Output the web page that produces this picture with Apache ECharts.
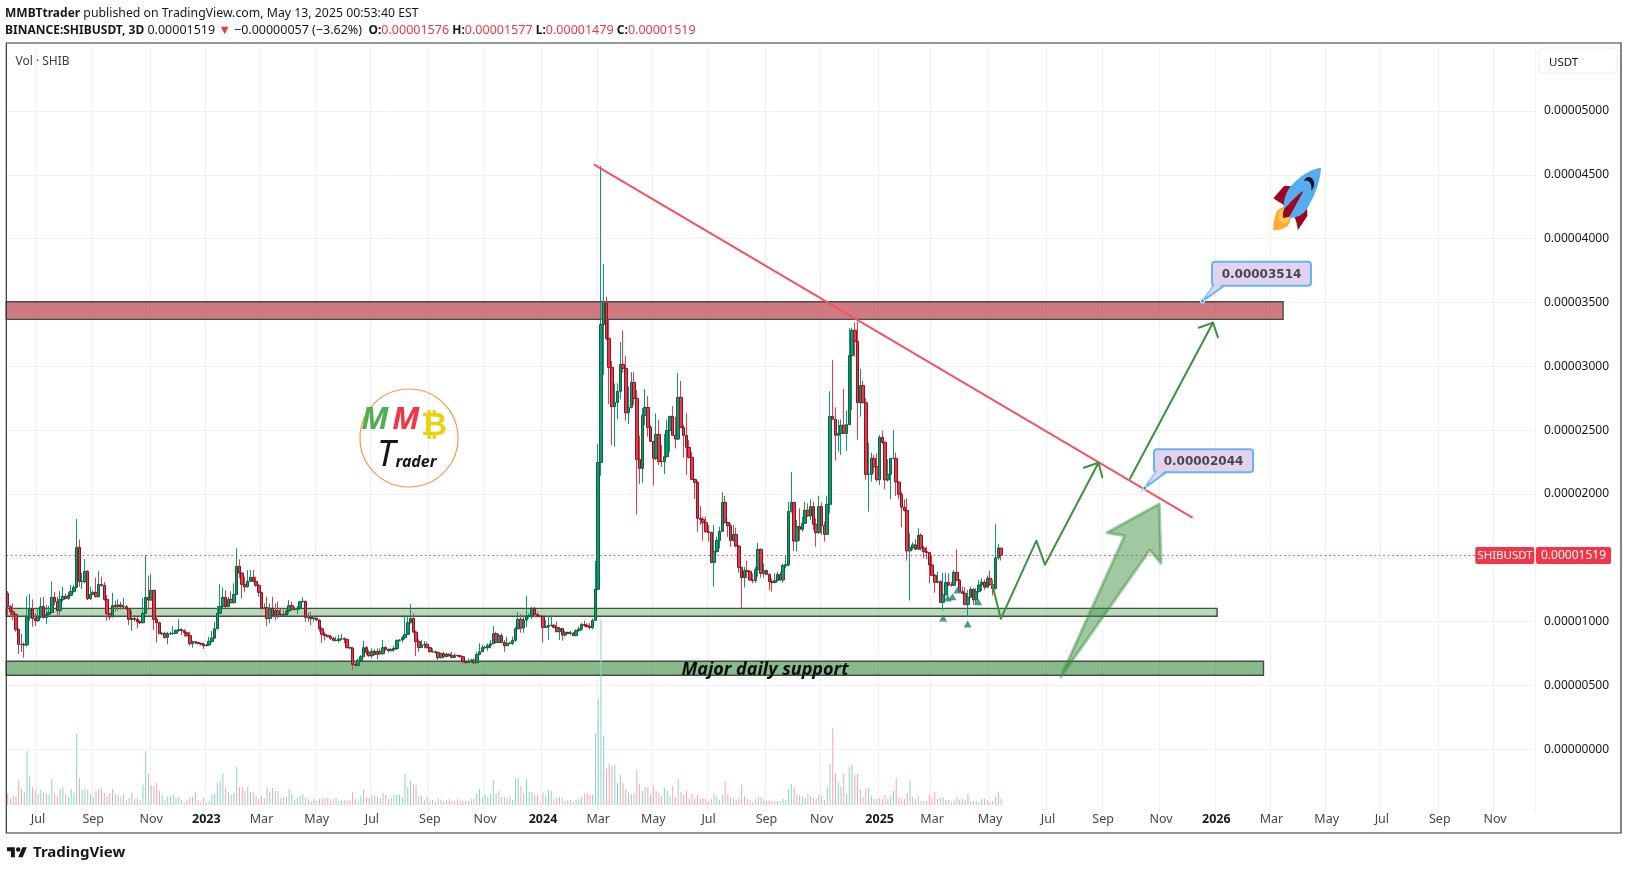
<!DOCTYPE html>
<html>
<head>
<meta charset="utf-8">
<title>SHIBUSDT</title>
<script src="https://cdn.jsdelivr.net/npm/echarts@6/dist/echarts.min.js"></script>
<style>
	html, body { margin: 0; padding: 0; background: #fff; }
	#chart { width: 1628px; height: 870px; }
</style>
</head>
<body>
<div id="chart"></div>
<script>
// prices are in units of 0.00000001 USDT, one row = 10 bars of 3 days
const firstDate = '2022-05-29';
const barCount = 554;
const firstOpen = 1221;
const lastPrice = 1519;

const closes = [
	1117,1078,1057,939,822,822,817,1033,1096,1025,
	1007,1038,1117,1033,1057,1072,1190,1156,1086,1174,
	1198,1182,1206,1237,1268,1582,1315,1315,1394,1179,
	1213,1229,1195,1292,1284,1174,1062,1038,1127,1117,
	1130,1117,1117,1101,1018,1023,1018,999,991,1065,
	1190,1169,1245,1018,991,905,908,877,905,908,
	908,931,937,929,913,890,827,843,837,830,
	824,811,817,845,871,944,1065,1119,1190,1117,
	1174,1148,1213,1433,1381,1292,1273,1315,1347,1315,
	1284,1229,1109,1109,1025,1104,1049,1086,1054,1057,
	1052,1083,1125,1096,1096,1104,1156,1159,1033,1033,
	1023,1028,1012,944,900,890,882,869,853,853,
	864,866,861,796,793,665,657,696,725,796,
	759,733,767,743,767,749,796,783,772,783,
	790,853,856,874,900,991,1025,918,843,798,
	817,822,796,764,764,759,717,749,725,746,
	733,720,736,733,725,686,678,686,699,678,
	743,764,796,796,814,827,905,837,890,837,
	811,830,830,853,944,1018,950,1012,1044,1044,
	1104,1057,1044,1041,955,960,971,971,955,921,
	947,895,916,908,911,890,929,942,978,971,
	960,955,1010,1253,2247,3328,3493,3219,2992,2684,
	2717,2804,3015,2984,2636,2678,2874,2749,2271,2200,
	2616,2678,2522,2412,2279,2467,2255,2253,2292,2498,
	2608,2459,2430,2757,2522,2459,2365,2287,2114,2091,
	1809,1801,1775,1704,1699,1464,1550,1636,1707,1934,
	1777,1751,1636,1683,1592,1425,1344,1399,1394,1326,
	1321,1409,1566,1378,1399,1370,1313,1307,1321,1370,
	1326,1441,1446,1864,1934,1631,1744,1723,1770,1872,
	1828,1901,1762,1697,1901,1752,1684,1919,2606,2585,
	2460,2475,2538,2475,2543,3084,3282,3196,2715,2849,
	2715,2154,2154,2279,2214,2112,2444,2405,2110,2154,
	2279,2279,2094,1997,1896,1872,1554,1580,1601,1567,
	1676,1575,1548,1541,1444,1363,1308,1313,1151,1209,
	1306,1287,1285,1386,1324,1235,1222,1133,1191,1253,
	1170,1235,1287,1310,1270,1340,1290,1260,1500,1576,
	1519
];
const highs = [
	1240,1130,1143,1065,947,903,837,1200,1216,1174,
	1065,1104,1190,1195,1130,1122,1315,1234,1195,1242,
	1273,1221,1234,1287,1287,1804,1644,1383,1490,1404,
	1273,1242,1344,1396,1352,1310,1208,1065,1226,1164,
	1174,1156,1187,1130,1106,1086,1052,1038,1012,1187,
	1519,1360,1373,1247,1052,999,921,921,921,921,
	965,939,1018,947,939,916,921,851,845,837,
	835,835,822,882,926,999,1122,1294,1268,1247,
	1195,1239,1300,1574,1488,1383,1352,1404,1404,1404,
	1352,1294,1234,1143,1195,1143,1195,1143,1156,1104,
	1104,1104,1169,1156,1117,1122,1164,1190,1164,1070,
	1075,1044,1025,1018,955,918,895,897,882,882,
	895,900,877,866,803,803,673,712,738,851,
	809,777,790,783,790,790,856,809,790,790,
	809,861,864,887,1052,1044,1138,1065,929,861,
	856,848,843,803,790,772,764,757,764,757,
	746,764,751,741,736,730,691,712,709,712,
	764,830,817,809,830,856,965,921,908,908,
	856,882,843,882,960,1075,1059,1052,1200,1065,
	1117,1117,1078,1052,1044,1012,1044,1052,981,999,
	960,947,929,921,929,916,939,960,991,1007,
	986,991,1025,1475,2391,4569,3801,3545,3362,3041,
	2866,2866,3190,3281,3080,2843,2955,2955,2814,2456,
	2673,2822,2767,2540,2415,2631,2579,2383,2469,2584,
	2608,2689,2605,2947,2885,2540,2631,2422,2331,2122,
	2101,1905,1822,1822,1757,1704,1757,1665,1744,2015,
	1984,1783,1770,1757,1736,1600,1430,1430,1477,1404,
	1378,1430,1618,1574,1456,1409,1378,1339,1378,1391,
	1391,1451,1514,1939,2172,1934,1796,1888,1823,1940,
	1927,1958,1940,1809,1984,1932,1783,1987,2804,3050,
	2679,2580,2585,2825,2653,3298,3303,3342,3350,2979,
	2888,2749,2402,2324,2306,2319,2462,2496,2410,2272,
	2279,2501,2324,2097,2018,1958,1966,1692,1622,1645,
	1731,1692,1593,1588,1548,1522,1373,1392,1324,1384,
	1384,1379,1313,1405,1567,1332,1274,1269,1248,1274,
	1261,1261,1326,1340,1330,1360,1400,1330,1765,1610,
	1577
];
const lows = [
	1052,1052,1012,921,746,762,717,803,1007,960,
	965,999,1025,1025,981,1033,1070,1130,1038,1054,
	1156,1174,1169,1200,1226,1260,1273,1255,1300,1169,
	1169,1208,1190,1190,1273,1164,1007,1012,1033,1078,
	1086,1091,1096,1091,973,929,999,947,981,986,
	1059,1091,1164,934,835,903,895,866,824,895,
	895,903,921,895,882,882,811,796,824,822,
	811,785,806,809,835,864,939,1059,1104,1096,
	1117,1143,1143,1208,1339,1182,1234,1268,1313,1310,
	1273,1195,1091,1104,965,986,1038,1012,1025,1044,
	1044,1038,1059,1086,1086,1059,1091,1153,999,999,
	973,999,1005,921,835,851,877,856,845,845,
	835,861,830,790,788,621,652,652,694,725,
	738,725,712,736,707,738,738,772,759,772,
	764,777,845,837,861,895,986,913,730,764,
	796,790,790,759,757,751,699,712,712,725,
	725,712,717,725,720,673,673,678,676,668,
	673,738,764,788,772,790,824,830,830,830,
	764,809,822,817,843,939,913,913,960,1025,
	1018,1033,1033,1033,835,955,856,960,947,916,
	856,851,882,903,895,887,887,921,929,960,
	955,939,939,1005,1247,2143,2932,3206,2704,2383,
	2370,2587,2741,2950,2574,2548,2670,2697,1838,2078,
	2088,2540,2449,2409,2065,2266,2227,2214,2156,2287,
	2331,2454,2357,2422,2514,2284,2148,2279,2109,1960,
	1704,1757,1634,1697,1626,1456,1274,1540,1574,1704,
	1770,1665,1587,1626,1582,1383,1102,1268,1339,1318,
	1300,1305,1352,1344,1344,1365,1247,1234,1300,1313,
	1321,1305,1417,1430,1853,1553,1548,1634,1705,1765,
	1822,1796,1718,1587,1687,1679,1627,1679,1849,2580,
	2261,2332,2306,2470,2337,2541,2658,3076,2423,2606,
	2710,2110,1862,2097,2162,2097,2071,2392,2037,2097,
	1958,2272,1984,1958,1739,1862,1478,1165,1561,1561,
	1561,1556,1496,1488,1300,1358,1227,1300,1149,1086,
	1204,1279,1274,1279,1319,1227,1217,1131,1034,1183,
	1131,1131,1227,1240,1250,1262,1280,1205,1250,1480,
	1479
];
// volume, relative units
const volumes = [
	35,18,27,27,75,48,39,162,87,54,
	45,33,45,36,33,30,78,36,27,48,
	54,33,24,48,36,213,81,45,48,45,
	33,24,42,48,51,36,27,36,48,33,
	30,24,33,15,21,36,18,21,15,60,
	162,93,60,57,66,42,30,15,27,26,
	30,21,24,15,6,15,24,24,39,15,
	9,21,6,12,30,33,66,72,96,54,
	39,30,36,114,54,54,42,54,39,39,
	27,18,27,21,54,39,51,42,42,21,
	24,24,48,33,15,21,27,33,23,18,
	12,18,12,18,20,21,21,12,18,21,
	12,14,14,14,14,39,18,12,27,45,
	24,21,27,27,24,21,36,30,18,21,
	30,30,30,24,93,54,72,63,60,27,
	27,15,24,12,15,9,21,15,12,15,
	18,12,12,18,12,12,12,12,18,18,
	36,48,24,33,24,33,75,36,42,24,
	24,21,27,15,78,81,57,36,78,39,
	39,33,30,9,36,27,45,42,18,21,
	24,21,12,15,15,9,15,18,24,33,
	36,30,30,216,318,555,207,108,123,117,
	120,66,90,66,48,39,33,36,105,63,
	42,54,54,33,60,42,36,27,51,42,
	27,57,24,78,39,30,42,18,33,18,
	30,18,21,18,12,18,36,27,15,30,
	72,33,24,18,15,21,60,27,18,15,
	9,18,24,24,18,12,14,12,12,12,
	12,18,15,48,63,54,33,30,24,21,
	33,27,21,18,30,27,15,54,123,231,
	93,69,54,96,33,114,120,90,93,48,
	24,51,51,27,18,18,21,18,30,18,
	27,42,81,21,18,18,36,75,24,18,
	27,12,12,12,30,21,39,18,21,24,
	15,15,9,12,24,15,18,15,33,12,
	12,12,9,18,18,15,9,12,24,39,
	20
];

const monthTicks = [
	['2022-07-01','Jul'],['2022-09-01','Sep'],['2022-11-01','Nov'],['2023-01-01','2023'],
	['2023-03-01','Mar'],['2023-05-01','May'],['2023-07-01','Jul'],['2023-09-01','Sep'],
	['2023-11-01','Nov'],['2024-01-01','2024'],['2024-03-01','Mar'],['2024-05-01','May'],
	['2024-07-01','Jul'],['2024-09-01','Sep'],['2024-11-01','Nov'],['2025-01-01','2025'],
	['2025-03-01','Mar'],['2025-05-01','May'],['2025-07-01','Jul'],['2025-09-01','Sep'],
	['2025-11-01','Nov'],['2026-01-01','2026'],['2026-03-01','Mar'],['2026-05-01','May'],
	['2026-07-01','Jul'],['2026-09-01','Sep'],['2026-11-01','Nov']
];

// drawings as [bar, price]
const trendLine = [[213.2,4579],[429.7,1817]];
const pathArrow = [[357,1318],[360.4,1022],[373.3,1634],[376.4,1446],[395.8,2245]];
const pathArrowHead = [[390.5,2206],[395.8,2245],[397.2,2131]];
const upArrow = [[407.2,2120],[437.3,3342]];
const upArrowHead = [[432.2,3302],[437.3,3342],[439.1,3227]];
const bigArrow = [[382.1,566],[405.3,1673],[398.9,1697],[417.8,1921],[418.5,1457],[414.4,1561]];
const redZone = [462.7,3368,3506];
const lightZone = [438.8,1042,1104];
const darkZone = [455.6,580,689];
const markers = [[339.5,1029],[341.2,1185],[342.9,1195],[344.7,1248],[348.4,981],[352.2,1156]];

const upColor = '#089981', downColor = '#f23645';
const upBorder = '#17602f', downBorder = '#7d1a28';
const font = '"Noto Sans", sans-serif';

let categories = [];
let start = new Date(firstDate + 'T00:00:00Z').getTime();
for (let i = 0; i < barCount; i++) {
	categories.push(new Date(start + i * 3 * 86400000).toISOString().slice(0, 10));
}
// a month label sits on the bar that holds the 1st of the month, past the data on the next bar
let tickAt = {};
monthTicks.forEach(function (t) {
	let idx = categories.filter(function (d) { return d <= t[0]; }).length - 1;
	if (idx >= closes.length && categories[idx] < t[0]) idx++;
	tickAt[idx] = t[1];
});

let opens = closes.map(function (c, i) { return i === 0 ? firstOpen : closes[i - 1]; });
let wickData = closes.map(function (c, i) { return [opens[i], c, lows[i], highs[i]]; });
let bodyData = closes.map(function (c, i) {
	return [opens[i], c, Math.min(opens[i], c), Math.max(opens[i], c)];
});
let volumeData = volumes.map(function (v, i) {
	return { value: v, itemStyle: { color: closes[i] >= opens[i] ? '#8ad3c8' : '#f9a6a6' } };
});

function drawing(points, color, width) {
	return {
		type: 'line', xAxisIndex: 1, yAxisIndex: 0, data: points, showSymbol: false, symbol: 'none',
		silent: true, z: 8, animation: false, lineStyle: { color: color, width: width, cap: 'round', join: 'round' }
	};
}
function zoneArea(zone, fill) {
	return [{ coord: [0, zone[2]], itemStyle: { color: fill, borderColor: '#4a4a4a', borderWidth: 1.4 } }, { coord: [zone[0], zone[1]] }];
}
function svgPath(d, box, fill) {
	return {
		type: 'path',
		shape: { pathData: d, x: box[0], y: box[1], width: box[2], height: box[3], layout: 'cover' },
		style: { fill: fill }
	};
}
function text(x, y, s, size, color, extra) {
	return {
		type: 'text', x: x, y: y, z: 32,
		style: Object.assign({ text: s, fontSize: size, fill: color, fontFamily: font, verticalAlign: 'middle' }, extra || {})
	};
}
function callout(left, top, w, h, tipX, tipY, baseA, baseB, label) {
	return [
		{
			type: 'polyline', z: 30,
			shape: { points: [[baseA, top + h], [tipX, tipY], [baseB, top + h]] },
			style: { stroke: '#64b5f6', lineWidth: 2, fill: '#e1d3ec' }
		},
		{
			type: 'rect', z: 31,
			shape: { x: left, y: top, width: w, height: h, r: 3 },
			style: { fill: '#e1d3ec', stroke: '#64b5f6', lineWidth: 2 }
		},
		{
			type: 'polygon', z: 31,
			shape: { points: [[baseA + 1, top + h - 1.5], [tipX + 3, tipY - 4], [baseB - 1, top + h - 1.5]] },
			style: { fill: '#e1d3ec' }
		},
		{
			type: 'circle', z: 32,
			shape: { cx: tipX, cy: tipY, r: 2 },
			style: { fill: '#2196f3', stroke: '#fff', lineWidth: 1 }
		},
		text(left + w / 2, top + h / 2 + 1, label, 13, '#4a4650', { align: 'center', fontWeight: 'bold', fontFamily: '"DejaVu Sans", sans-serif', fontSize: 12 })
	];
}

const chart = echarts.init(document.getElementById('chart'));
chart.setOption({
	animation: false,
	backgroundColor: '#ffffff',
	grid: [
		{ left: 6.3, right: 93, top: 47.2, height: 765.9 },
		{ left: 6.3, right: 93, top: 560, height: 245 }
	],
	xAxis: [
		{
			type: 'category', gridIndex: 0, data: categories, boundaryGap: true,
			axisLine: { show: false },
			axisTick: { show: false, alignWithLabel: true, interval: function (i) { return tickAt[i] !== undefined; } },
			splitLine: { show: true, lineStyle: { color: '#eff0f3', width: 1 }, interval: function (i) { return tickAt[i] !== undefined; } },
			axisLabel: {
				interval: function (i) { return tickAt[i] !== undefined; },
				margin: 0,
				lineHeight: 12,
				padding: [0, 0, 0, 0],
				formatter: function (v, i) {
					let t = tickAt[i];
					if (t === undefined) return '';
					return /^\d/.test(t) ? '{y|' + t + '}' : '{m|' + t + '}';
				},
				rich: {
					m: { fontFamily: font, fontSize: 12.5, color: '#43464f' },
					y: { fontFamily: font, fontSize: 12.5, fontWeight: 'bold', color: '#131722' }
				}
			}
		},
		{ type: 'value', gridIndex: 0, min: 0, max: barCount, show: false, splitLine: { show: false } },
		{ type: 'category', gridIndex: 1, data: categories, show: false }
	],
	yAxis: [
		{
			type: 'value', gridIndex: 0, position: 'right', min: -500, max: 5500, interval: 500,
			axisLine: { show: false }, axisTick: { show: false },
			splitLine: { show: true, showMinLine: false, showMaxLine: false, lineStyle: { color: '#f0f1f4', width: 1 } },
			axisLabel: {
				margin: 9, fontFamily: font, fontSize: 12, color: '#131722', padding: [5, 0, 0, 0],
				formatter: function (v) {
					if (v < 0 || v > 5000) return '';
					return (v / 100000000).toFixed(8);
				}
			}
		},
		{ type: 'value', gridIndex: 1, min: 0, max: 735, show: false, splitLine: { show: false } }
	],
	series: [
		{
			type: 'bar', xAxisIndex: 2, yAxisIndex: 1, data: volumeData, barWidth: 1, z: 1, silent: true
		},
		{
			type: 'candlestick', xAxisIndex: 0, yAxisIndex: 0, data: wickData, barWidth: 1, z: 3, silent: true,
			itemStyle: { color: upColor, color0: downColor, borderColor: upColor, borderColor0: downColor, borderWidth: 1 }
		},
		{
			type: 'candlestick', xAxisIndex: 0, yAxisIndex: 0, data: bodyData, barWidth: 3, z: 4, silent: true,
			itemStyle: { color: upColor, color0: downColor, borderColor: upBorder, borderColor0: downBorder, borderWidth: 1 }
		},
		Object.assign(drawing([], '#000', 1), {
			z: 6,
			markArea: {
				silent: true,
				data: [zoneArea(redZone, 'rgba(178,40,51,0.62)'), zoneArea(lightZone, 'rgba(76,175,80,0.42)'), zoneArea(darkZone, 'rgba(56,142,60,0.6)')]
			},
			markLine: {
				silent: true, symbol: 'none', label: { show: false },
				lineStyle: { color: '#f23645', type: [1.5, 3], width: 1 },
				data: [{ yAxis: lastPrice }]
			}
		}),
		drawing(trendLine, '#f7525f', 2),
		drawing(pathArrow, '#3d9142', 2),
		drawing(pathArrowHead, '#3d9142', 2),
		drawing(upArrow, '#3d9142', 2),
		drawing(upArrowHead, '#3d9142', 2),
		{
			type: 'custom', xAxisIndex: 1, yAxisIndex: 0, data: bigArrow, z: 7, silent: true, clip: false,
			renderItem: function (params, api) {
				if (params.dataIndex !== 0) return null;
				return {
					type: 'polygon',
					shape: { points: bigArrow.map(function (p) { return api.coord(p); }) },
					style: { fill: 'rgba(56,142,60,0.48)', stroke: 'rgba(56,142,60,0.45)', lineWidth: 3, lineJoin: 'round' }
				};
			}
		},
		{
			type: 'scatter', xAxisIndex: 1, yAxisIndex: 0, data: markers, symbol: 'triangle', symbolSize: [8, 7], z: 9, silent: true,
			itemStyle: { color: '#1f8076' }
		},
		// rocket picture and TradingView mark
		{
			type: 'custom', coordinateSystem: 'none', data: [0], z: 30, silent: true,
			renderItem: function () {
				return {
					type: 'group',
					children: [
						{
							type: 'group', x: 1272, y: 168, scaleX: 1.36, scaleY: 1.78,
							children: [
								svgPath('M1 17l8-7 16 1 1 16-7 8s.001-5.999-6-12-12-6-12-6z', [1, 10, 25, 25], '#a0041e'),
								svgPath('M.973 35s-.036-7.979 2.985-11S15 21.187 15 21.187 14.999 29 11.999 32c-3 3-11.026 3-11.026 3z', [0.97, 21.19, 14.03, 13.81], '#ffac33'),
								{ type: 'circle', shape: { cx: 9, cy: 27, r: 4 }, style: { fill: '#ffcc4d' } },
								svgPath('M35.999 0s-10 0-22 10c-6 5-6 14-4 16s11 2 16-4c10-12 10-22 10-22z', [8.6, 0, 27.4, 28], '#55acee'),
								svgPath('M26.999 5c-1.623 0-3.013.971-3.641 2.36.502-.227 1.055-.36 1.641-.36 2.209 0 4 1.791 4 4 0 .586-.133 1.139-.359 1.64 1.389-.627 2.359-2.017 2.359-3.64 0-2.209-1.791-4-4-4z', [23.36, 5, 7.64, 7.64], '#131722'),
								svgPath('M8 28s0-4 1-5 13.001-10.999 14-10-9.001 13-10.001 14S8 28 8 28z', [8, 13, 15, 15], '#a0041e')
							]
						},
						{
							type: 'group', x: 7, y: 845, scaleX: 0.56, scaleY: 0.56,
							children: [
								svgPath('M14 22H7V11H0V4h14v18zM28 22h-8l7.5-18h8L28 22z', [0, 4, 35.5, 18], '#131722'),
								{ type: 'circle', shape: { cx: 20, cy: 8, r: 4 }, style: { fill: '#131722' } }
							]
						}
					]
				};
			}
		}
	],
	graphic: [
		// publish header
		text(5, 13.5, '{b|MMBTtrader} published on TradingView.com, May 13, 2025 00:53:40 EST', 12.3, '#131722', {
			rich: { b: { fontFamily: font, fontSize: 12, fontWeight: 'bold', fill: '#131722' } }
		}),
		text(5, 30.5, '{b|BINANCE:SHIBUSDT, 3D} 0.00001519 {r|▼} −0.00000057 (−3.62%)  {b|O:}{r|0.00001576} {b|H:}{r|0.00001577} {b|L:}{r|0.00001479} {b|C:}{r|0.00001519}', 12.5, '#131722', {
			rich: {
				b: { fontFamily: font, fontSize: 12, fontWeight: 'bold', fill: '#131722' },
				r: { fontFamily: font, fontSize: 12.5, fill: '#f23645' }
			}
		}),
		text(15.5, 62, 'Vol · SHIB', 12, '#3a3e48'),
		// frame
		{
			type: 'rect', z: 20, silent: true,
			shape: { x: 6.3, y: 43, width: 1614.7, height: 790 },
			style: { fill: 'none', stroke: '#2f323b', lineWidth: 1.2 }
		},
		// currency button
		{
			type: 'rect', z: 20,
			shape: { x: 1539, y: 48, width: 78, height: 25, r: 4 },
			style: { fill: '#fff', stroke: '#eceef2', lineWidth: 1 }
		},
		text(1549, 62.5, 'USDT', 11.5, '#131722'),
		// last price tag
		{
			type: 'rect', z: 25,
			shape: { x: 1475.3, y: 547, width: 59, height: 17, r: 2 },
			style: { fill: '#f23645' }
		},
		{
			type: 'rect', z: 25,
			shape: { x: 1536, y: 547, width: 75, height: 17, r: 2 },
			style: { fill: '#f23645' }
		},
		text(1505, 556, 'SHIBUSDT', 11.5, '#fff', { align: 'center' }),
		text(1573.5, 556, '0.00001519', 12, '#fff', { align: 'center' }),
		// logo
		{
			type: 'circle', z: 28,
			shape: { cx: 409, cy: 438, r: 49 },
			style: { fill: 'none', stroke: '#f4994c', lineWidth: 1.2 }
		},
		text(375, 420, 'M', 31, '#4caf50', { align: 'center', fontStyle: 'italic', fontWeight: 'bold' }),
		text(406, 420, 'M', 31, '#f23645', { align: 'center', fontStyle: 'italic', fontWeight: 'bold' }),
		text(434, 427, '₿', 32, '#e8d30c', { align: 'center', fontWeight: 'bold', fontFamily: '"DejaVu Sans", sans-serif' }),
		text(386, 456, 'T', 36, '#131722', { align: 'center', fontStyle: 'italic' }),
		text(416, 462, 'rader', 16, '#131722', { align: 'center', fontStyle: 'italic', fontWeight: 'bold', letterSpacing: 1 }),
		// drawing text
		text(765, 670, 'Major daily support', 18, '#0b0f0b', { align: 'center', fontStyle: 'italic', fontWeight: 'bold' }),
		// TradingView word
		text(33, 852.5, 'TradingView', 15, '#131722', { fontWeight: 'bold' })
	].concat(
		callout(1212, 261.7, 99, 24, 1202.7, 301, 1214, 1224, '0.00003514'),
		callout(1154, 449.3, 99, 23, 1144.7, 488, 1156, 1166, '0.00002044')
	)
});
</script>
</body>
</html>
